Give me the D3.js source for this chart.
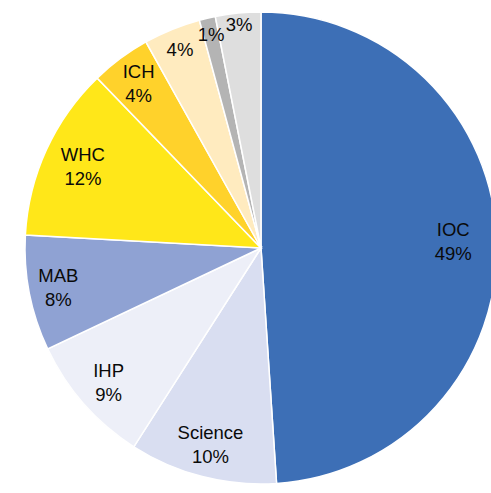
<!DOCTYPE html>
<html lang="en">
<head>
    <meta charset="UTF-8">
    <title>Budget share pie</title>
    <script src="https://d3js.org/d3.v7.min.js"></script>
    <style>
        body { margin: 0; background: #fff; }
        .label text {
            font: 18.5px "Liberation Sans", Arial, sans-serif;
            fill: #0a0a0a;
            text-anchor: middle;
        }
        .slice path {
            stroke: #fff;
            stroke-width: 1.5px;
        }
    </style>
</head>
<body>
    <script>
        // slices, clockwise from 12 o'clock
        const names = ["IOC", "Science", "IHP", "MAB", "WHC", "ICH", "", "", ""];
        const values = [48.9, 10.1, 8.9, 7.9, 11.9, 4.1, 3.9, 1.1, 3.1];
        const pctLabels = ["49%", "10%", "9%", "8%", "12%", "4%", "4%", "1%", "3%"];
        const colors = ["#3d6fb6", "#d9def1", "#edeff8", "#8fa2d3", "#ffe719",
            "#ffd22b", "#ffebbf", "#b4b4b4", "#dedede"];

        const width = 491, height = 493;
        const cx = 261, cy = 248, radius = 236;

        // where each label sits, as a fraction of the radius (best-fit look)
        const labelPos = [0.815, 0.86, 0.86, 0.875, 0.83, 0.87, 0.91, 0.93, 0.95];

        const svg = d3.select("body").append("svg")
            .attr("width", width)
            .attr("height", height);

        const g = svg.append("g")
            .attr("transform", "translate(" + cx + "," + cy + ")");

        const data = values.map((v, i) => ({ name: names[i], value: v, pct: pctLabels[i], i: i }));

        const pie = d3.pie().sort(null).value(d => d.value);
        const arcs = pie(data);

        const arc = d3.arc().innerRadius(0).outerRadius(radius);

        g.append("g").attr("class", "slice")
            .selectAll("path")
            .data(arcs)
            .enter().append("path")
            .attr("fill", d => colors[d.data.i])
            .attr("d", arc);

        const label = g.append("g").attr("class", "label")
            .selectAll("g")
            .data(arcs)
            .enter().append("g")
            .attr("transform", d => {
                const r = radius * labelPos[d.data.i];
                const a = (d.startAngle + d.endAngle) / 2;
                return "translate(" + (Math.sin(a) * r) + "," + (-Math.cos(a) * r) + ")";
            });

        label.each(function (d) {
            const t = d3.select(this).append("text");
            if (d.data.name) {
                t.append("tspan").attr("x", 0).attr("dy", "-0.3em").text(d.data.name);
                t.append("tspan").attr("x", 0).attr("dy", "1.3em").text(d.data.pct);
            } else {
                t.attr("dy", "0.35em").text(d.data.pct);
            }
        });
    </script>
</body>
</html>
